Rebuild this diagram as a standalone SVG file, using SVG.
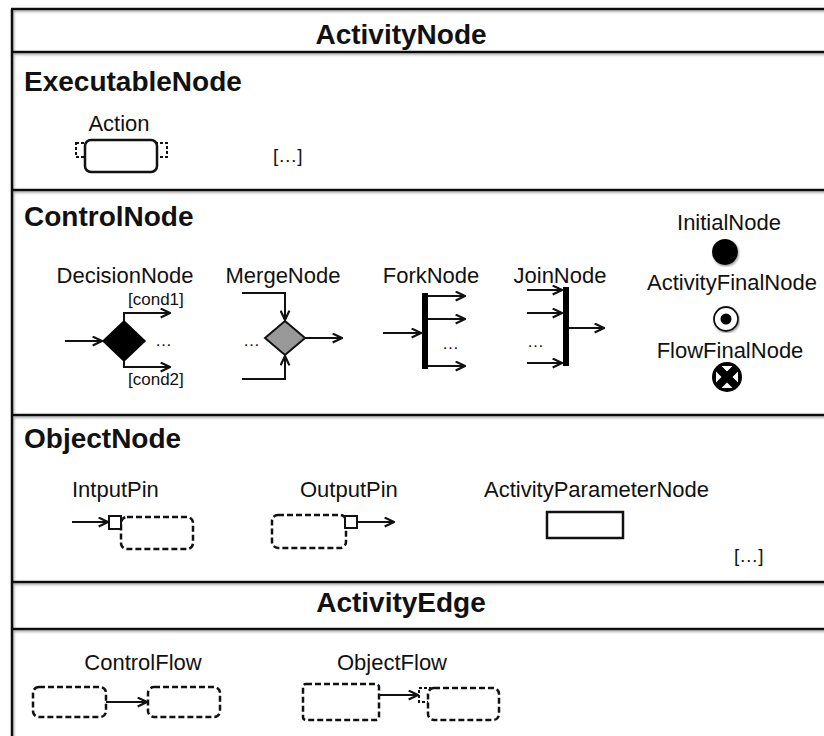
<svg xmlns="http://www.w3.org/2000/svg" width="824" height="736" viewBox="0 0 824 736">
<style>
text{font-family:"Liberation Sans",Arial,sans-serif;fill:#111}
.h{font-weight:bold;font-size:28px}
.l{font-size:22px}
.c{font-size:17px}
.frame{stroke:#111;stroke-width:2.5;fill:none}
.e{stroke:#111;stroke-width:2;fill:none}
.dash{stroke:#111;stroke-width:2.5;fill:#fff;stroke-dasharray:6 3}
.pin{stroke:#111;stroke-width:2;fill:#fff}
</style>
<defs>
<marker id="arr" viewBox="0 0 10 10" refX="9.5" refY="5" markerWidth="11" markerHeight="11" markerUnits="userSpaceOnUse" orient="auto">
<path d="M1,1 L9.5,5 L1,9" fill="none" stroke="#111" stroke-width="2"/>
</marker>
<filter id="sh" x="-5%" y="-5%" width="110%" height="110%">
<feDropShadow dx="1" dy="1.5" stdDeviation="0.8" flood-color="#777" flood-opacity="0.7"/>
</filter>
</defs>
<rect width="824" height="736" fill="#fff"/>

<g id="frame" filter="url(#sh)">
<line class="frame" x1="12" y1="9" x2="12" y2="740"/>
<line class="frame" x1="11" y1="9" x2="826" y2="9"/>
<line class="frame" x1="11" y1="52" x2="826" y2="52"/>
<line class="frame" x1="11" y1="190" x2="826" y2="190"/>
<line class="frame" x1="11" y1="415" x2="826" y2="415"/>
<line class="frame" x1="11" y1="582" x2="826" y2="582"/>
<line class="frame" x1="11" y1="629" x2="826" y2="629"/>
</g>

<g id="titles">
<text class="h" x="401" y="44" text-anchor="middle">ActivityNode</text>
<text class="h" x="24" y="91">ExecutableNode</text>
<text class="h" x="24" y="226">ControlNode</text>
<text class="h" x="24" y="448">ObjectNode</text>
<text class="h" x="401" y="612" text-anchor="middle">ActivityEdge</text>
</g>

<g id="action">
<text class="l" x="119" y="131" text-anchor="middle">Action</text>
<rect class="dash" x="76" y="143" width="12" height="14" style="stroke-width:2;stroke-dasharray:3 2"/>
<rect class="dash" x="155" y="143" width="12" height="14" style="stroke-width:2;stroke-dasharray:3 2"/>
<rect x="85" y="140" width="72" height="32" rx="6" fill="#fff" stroke="#111" stroke-width="2.5"/>
</g>
<g id="exec-more"><text class="l" x="273" y="162" style="font-size:19px">[…]</text></g>

<g id="decision">
<text class="l" x="125" y="283" text-anchor="middle">DecisionNode</text>
<text class="c" x="128" y="305">[cond1]</text>
<text class="c" x="128" y="385">[cond2]</text>
<polygon points="124,321 145,341 124,361 103,341" fill="#000" stroke="#000" stroke-width="1.5"/>
<text class="c" x="155" y="346">…</text>
</g>

<g id="merge">
<text class="l" x="283" y="283" text-anchor="middle">MergeNode</text>
<polygon points="285,321 305,338 285,355 265,338" fill="#999" stroke="#111" stroke-width="2"/>
<text class="c" x="243" y="346">…</text>
</g>

<g id="fork">
<text class="l" x="431" y="283" text-anchor="middle">ForkNode</text>
<rect x="422" y="293" width="6" height="76" fill="#000"/>
<text class="c" x="442" y="349">…</text>
</g>

<g id="join">
<text class="l" x="560" y="283" text-anchor="middle">JoinNode</text>
<rect x="563" y="287" width="6" height="79" fill="#000"/>
<text class="c" x="527" y="347">…</text>
</g>

<g id="initial">
<text class="l" x="729" y="230" text-anchor="middle">InitialNode</text>
<circle cx="725" cy="252" r="13" fill="#000" filter="url(#sh)"/>
</g>

<g id="activityfinal">
<text class="l" x="732" y="290" text-anchor="middle">ActivityFinalNode</text>
<circle cx="726" cy="319" r="12" fill="#fff" stroke="#111" stroke-width="1.8" filter="url(#sh)"/>
<circle cx="726" cy="319" r="5.5" fill="#000"/>
</g>

<g id="flowfinal">
<text class="l" x="730" y="358" text-anchor="middle">FlowFinalNode</text>
<circle cx="727" cy="377" r="15" fill="#000"/>
<polygon points="716,371.5 716,382.5 721.5,377" fill="#fff"/>
<polygon points="738,371.5 738,382.5 732.5,377" fill="#fff"/>
<polygon points="721.5,366 732.5,366 727,371.5" fill="#fff"/>
<polygon points="721.5,388 732.5,388 727,382.5" fill="#fff"/>
</g>

<g id="inputpin">
<text class="l" x="72" y="497">IntputPin</text>
<rect class="dash" x="121" y="517" width="72" height="32" rx="6"/>
<rect class="pin" x="109" y="516" width="12" height="13"/>
</g>

<g id="outputpin">
<text class="l" x="300" y="497">OutputPin</text>
<rect class="dash" x="272" y="515" width="74" height="33" rx="6"/>
<rect class="pin" x="345" y="516" width="12" height="12"/>
</g>

<g id="parameternode">
<text class="l" x="484" y="497">ActivityParameterNode</text>
<rect x="547" y="512" width="76" height="26" fill="#fff" stroke="#111" stroke-width="2.5"/>
</g>
<g id="object-more"><text class="l" x="734" y="562" style="font-size:19px">[…]</text></g>

<g id="controlflow">
<text class="l" x="143" y="670" text-anchor="middle">ControlFlow</text>
<rect class="dash" x="33" y="687" width="73" height="30" rx="6"/>
<rect class="dash" x="148" y="687" width="72" height="30" rx="6"/>
</g>

<g id="objectflow">
<text class="l" x="392" y="670" text-anchor="middle">ObjectFlow</text>
<rect class="dash" x="303" y="684" width="76" height="36" rx="3"/>
<rect class="dash" x="419" y="688" width="11" height="14" style="stroke-width:2;stroke-dasharray:3 2"/>
<rect class="dash" x="428" y="688" width="71" height="32" rx="6"/>
</g>

<g id="connectors">
<path class="e" d="M65,341 L102,341" marker-end="url(#arr)"/>
<path class="e" d="M124,321 L124,313 L170,313" marker-end="url(#arr)"/>
<path class="e" d="M124,361 L124,367 L170,367" marker-end="url(#arr)"/>
<path class="e" d="M242,293 L285,293 L285,320" marker-end="url(#arr)"/>
<path class="e" d="M242,379 L285,379 L285,356" marker-end="url(#arr)"/>
<path class="e" d="M305,338 L342,338" marker-end="url(#arr)"/>
<path class="e" d="M383,333 L421,333" marker-end="url(#arr)"/>
<path class="e" d="M428,296 L465,296" marker-end="url(#arr)"/>
<path class="e" d="M428,319 L465,319" marker-end="url(#arr)"/>
<path class="e" d="M428,366 L465,366" marker-end="url(#arr)"/>
<path class="e" d="M527,290 L562,290" marker-end="url(#arr)"/>
<path class="e" d="M527,313 L562,313" marker-end="url(#arr)"/>
<path class="e" d="M527,363 L562,363" marker-end="url(#arr)"/>
<path class="e" d="M569,328 L604,328" marker-end="url(#arr)"/>
<path class="e" d="M72,522 L108,522" marker-end="url(#arr)"/>
<path class="e" d="M357,522 L394,522" marker-end="url(#arr)"/>
<path class="e" d="M106,702 L147,702" marker-end="url(#arr)"/>
<path class="e" d="M379,695 L418,695" marker-end="url(#arr)"/>
</g>
</svg>
